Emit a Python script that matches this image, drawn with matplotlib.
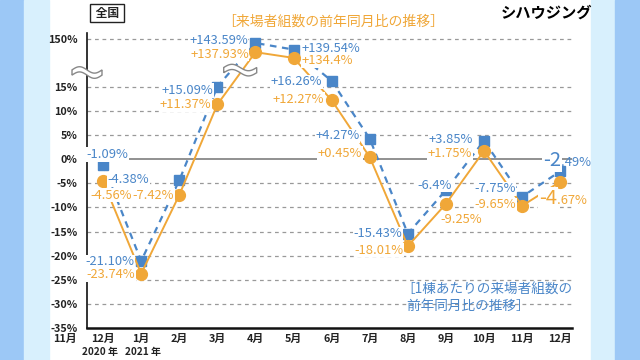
import numpy as np
import matplotlib
matplotlib.use('Agg')
import matplotlib.pyplot as plt
import matplotlib.transforms as mtransforms
from matplotlib.patches import Polygon, Rectangle

plt.rcParams['font.family'] = ['Noto Sans CJK JP', 'DejaVu Sans']

# data
months = ['11月', '12月', '1月', '2月', '3月', '4月', '5月', '6月',
          '7月', '8月', '9月', '10月', '11月', '12月']
per_house = [-1.09, -21.10, -4.38, 15.09, 143.59, 139.54, 16.26,
             4.27, -15.43, -6.4, 3.85, -7.75, -2.49]
visitors = [-4.56, -23.74, -7.42, 11.37, 137.93, 134.4, 12.27,
            0.45, -18.01, -9.25, 1.75, -9.65, -4.67]
per_house_txt = ['-1.09%', '-21.10%', '-4.38%', '+15.09%', '+143.59%', '+139.54%',
                 '+16.26%', '+4.27%', '-15.43%', '-6.4%', '+3.85%', '-7.75%', None]
visitors_txt = ['-4.56%', '-23.74%', '-7.42%', '+11.37%', '+137.93%', '+134.4%',
                '+12.27%', '+0.45%', '-18.01%', '-9.25%', '+1.75%', '-9.65%', None]
yticks = [-35, -30, -25, -20, -15, -10, -5, 0, 5, 10, 15, 150]

BLUE = '#4a86c8'
ORANGE = '#f0a738'
DARK = '#222222'

# label offsets in pixels (dx, dy)
blue_off = [(4, 10), (-31, -1), (-51, 1), (-30, -4), (-37, 2), (37, 1), (-35, -1),
            (-32, 3), (-30, 0), (-11, 5), (-33, 1), (-27, 8), None]
orange_off = [(8, -14), (-30, -1), (-26, 0), (-32, 0), (-36, -2), (34, -3), (-33, 1),
              (-30, 4), (-29, -4), (15, -16), (-34, -3), (-27, 1), None]

# broken y axis: compress everything above 20%
knots_v = [-100, 20, 134, 145, 150, 300]
knots_p = [-100, 20, 20.9, 24.6, 25, 75]


def forward(v):
    return np.interp(v, knots_v, knots_p)


def inverse(p):
    return np.interp(p, knots_p, knots_v)


fig = plt.figure(figsize=(6.4, 3.6), dpi=100)
fig.patch.set_facecolor('white')
for x0, w, c in [(0, 24, '#9cc8f6'), (24, 25, '#d8f0fd'),
                 (591, 24, '#d8f0fd'), (615, 25, '#9cc8f6')]:
    fig.add_artist(Rectangle((x0 / 640, 0), w / 640, 1, transform=fig.transFigure,
                             color=c, zorder=0))

ax = fig.add_axes([87 / 640, 1 - 328 / 360, 485 / 640, 295 / 360])
ax.set_facecolor('none')
ax.set_yscale('function', functions=(forward, inverse))
ax.set_ylim(-35, inverse(26.2))
x = np.arange(1, 14)
ax.set_xlim(0.578, 13.31)

for t in yticks:
    if t == -35:
        continue
    if t == 0:
        ax.axhline(t, color='#888888', lw=1.3, zorder=1)
    else:
        ax.axhline(t, color='#999999', lw=0.9, ls=(0, (3, 3)), zorder=1)

ax.plot(x, per_house, color=BLUE, lw=1.6, ls=(0, (3, 2.5)), marker='s',
        markersize=7, zorder=3)
ax.plot(x, visitors, color=ORANGE, lw=1.4, marker='o', markersize=8.5, zorder=4)

LBL = 9.3
for xi, v, s, off in zip(x, per_house, per_house_txt, blue_off):
    if s is None:
        continue
    ax.annotate(s, (xi, v), xytext=off, textcoords='offset pixels', ha='center',
                va='center', color=BLUE, fontsize=LBL, zorder=6,
                bbox=dict(boxstyle='square,pad=0.05', fc='white', ec='none'))
for xi, v, s, off in zip(x, visitors, visitors_txt, orange_off):
    if s is None:
        continue
    ax.annotate(s, (xi, v), xytext=off, textcoords='offset pixels', ha='center',
                va='center', color=ORANGE, fontsize=LBL, zorder=6,
                bbox=dict(boxstyle='square,pad=0.05', fc='white', ec='none'))

# last month, big leading digit
ax.annotate('-2', (13, per_house[-1]), xytext=(1, 11), textcoords='offset pixels',
            ha='right', va='center', color=BLUE, fontsize=14.5, zorder=6,
            bbox=dict(boxstyle='square,pad=0.05', fc='white', ec='none'))
ax.annotate('.49%', (13, per_house[-1]), xytext=(1, 9), textcoords='offset pixels',
            ha='left', va='center', color=BLUE, fontsize=LBL, zorder=6)
ax.annotate('-4', (13, visitors[-1]), xytext=(-3, -17), textcoords='offset pixels',
            ha='right', va='center', color=ORANGE, fontsize=14.5, zorder=6,
            bbox=dict(boxstyle='square,pad=0.05', fc='white', ec='none'))
ax.annotate('.67%', (13, visitors[-1]), xytext=(-3, -19), textcoords='offset pixels',
            ha='left', va='center', color=ORANGE, fontsize=LBL, zorder=6)

TK = 7.8
ax.set_yticks(yticks)
ax.set_yticklabels([f'{t}%' for t in yticks], fontsize=TK, fontweight='bold', color=DARK)
ax.set_xticks(x)
ax.set_xticklabels(months[1:], fontsize=TK, fontweight='bold', color=DARK)
ax.tick_params(length=0, pad=4)
ax.tick_params(axis='y', pad=7)
ax.annotate(months[0], (0, -35), xytext=(0, -4), textcoords='offset points',
            ha='center', va='top', fontsize=TK, fontweight='bold', color=DARK,
            annotation_clip=False)
ax.annotate('2020 年', (1, -35), xytext=(-2, -13.5), textcoords='offset points',
            ha='center', va='top', fontsize=7.2, fontweight='bold', color=DARK,
            annotation_clip=False)
ax.annotate('2021 年', (2, -35), xytext=(1, -13.5), textcoords='offset points',
            ha='center', va='top', fontsize=7.2, fontweight='bold', color=DARK,
            annotation_clip=False)

for side in ['top', 'right']:
    ax.spines[side].set_visible(False)
ax.spines['left'].set_linewidth(1.2)
ax.spines['bottom'].set_linewidth(1.8)
ax.spines['left'].set_color('#111111')
ax.spines['bottom'].set_color('#111111')


def draw_wave(cx, cy, width=30):
    t = np.linspace(-0.5, 0.5, 60)
    xs = cx + t * width
    wave = -3.2 * np.sin(2 * np.pi * t)
    up = cy + 2.6 + wave
    lo = cy - 2.6 + wave
    pts = np.column_stack([np.r_[xs, xs[::-1]], np.r_[up, lo[::-1]]])
    fig.add_artist(Polygon(pts, closed=True, fc='white', ec='#888888', lw=1.0,
                           transform=mtransforms.IdentityTransform(), zorder=5))


# break marks on the axis and on the lines
cx, cy = ax.transData.transform((0.578, 18))
draw_wave(cx, cy)
cx, cy = ax.transData.transform((4.6, 18.5))
draw_wave(cx, cy, width=33)

fig.text(107 / 640, 1 - 13 / 360, ' 全国 ', ha='center', va='center', fontsize=8.5,
         fontweight='bold', color=DARK,
         bbox=dict(boxstyle='square,pad=0.25', fc='white', ec='#222222', lw=1))
fig.text(333 / 640, 1 - 22 / 360, '［来場者組数の前年同月比の推移］', ha='center',
         va='center', fontsize=10, color=ORANGE)
fig.text(401 / 640, 1 - 298 / 360, '［1棟あたりの来場者組数の\n  前年同月比の推移］',
         ha='left', va='center', fontsize=9.8, color=BLUE, linespacing=1.25)
fig.text(546 / 640, 1 - 13 / 360, 'シハウジング', ha='center', va='center',
         fontsize=11, fontweight='bold', color='black')

fig.savefig('out.png', dpi=100)
